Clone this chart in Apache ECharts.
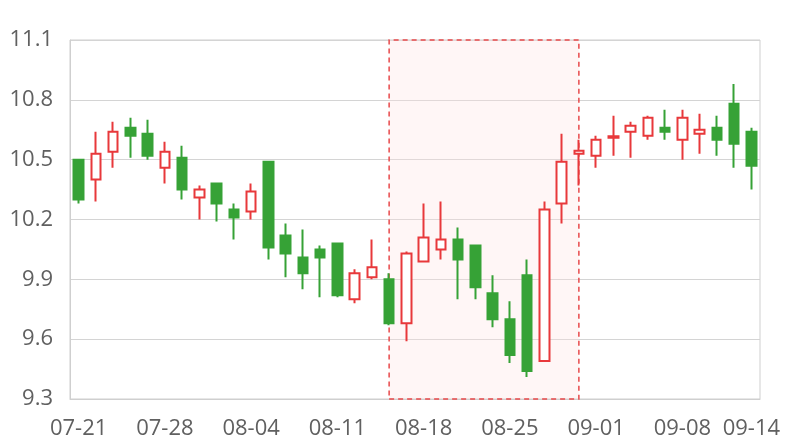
<!DOCTYPE html>
<html>
<head>
<meta charset="utf-8">
<script src="https://cdn.jsdelivr.net/npm/echarts@6/dist/echarts.min.js"></script>
<style>html,body{margin:0;padding:0;background:#fff;}#chart{width:800px;height:440px;}</style>
</head>
<body>
<div id="chart"></div>
<script>
var categories = ['07-21','07-22','07-23','07-24','07-25','07-28','07-29','07-30','07-31','08-01',
  '08-04','08-05','08-06','08-07','08-08','08-11','08-12','08-13','08-14','08-15',
  '08-18','08-19','08-20','08-21','08-22','08-25','08-26','08-27','08-28','08-29',
  '09-01','09-02','09-03','09-04','09-05','09-08','09-09','09-10','09-11','09-14'];
var openValues  = [10.50,10.40,10.54,10.66,10.63,10.46,10.51,10.31,10.38,10.25,
  10.24,10.49,10.12,10.01,10.05,10.08,9.80,9.91,9.90,9.68,
  9.99,10.05,10.10,10.07,9.83,9.70,9.92,9.49,10.28,10.53,
  10.52,10.61,10.64,10.62,10.66,10.60,10.63,10.66,10.78,10.64];
var closeValues = [10.30,10.53,10.64,10.62,10.52,10.54,10.35,10.35,10.28,10.21,
  10.34,10.06,10.03,9.93,10.01,9.82,9.93,9.96,9.68,10.03,
  10.11,10.10,10.00,9.86,9.70,9.52,9.44,10.25,10.49,10.545,
  10.60,10.617,10.67,10.71,10.64,10.71,10.65,10.60,10.58,10.47];
var lowValues   = [10.28,10.29,10.46,10.51,10.50,10.38,10.30,10.20,10.19,10.10,
  10.20,10.00,9.91,9.85,9.81,9.81,9.78,9.90,9.67,9.59,
  9.99,10.00,9.80,9.80,9.66,9.48,9.41,9.49,10.18,10.37,
  10.46,10.52,10.51,10.60,10.60,10.50,10.53,10.52,10.46,10.35];
var highValues  = [10.50,10.64,10.69,10.71,10.70,10.59,10.57,10.37,10.38,10.28,
  10.38,10.49,10.18,10.15,10.07,10.08,9.95,10.10,9.93,10.04,
  10.28,10.29,10.16,10.07,9.92,9.79,10.00,10.29,10.63,10.60,
  10.62,10.72,10.69,10.72,10.75,10.75,10.73,10.72,10.88,10.66];
var yTicks = {min: 9.3, max: 11.1, interval: 0.3};
var highlightRange = ['08-14', '08-29'];

var ohlc = categories.map(function (c, i) {
  return [openValues[i], closeValues[i], lowValues[i], highValues[i]];
});

var chart = echarts.init(document.getElementById('chart'), null, {renderer: 'canvas'});
var font = '"Open Sans", "Noto Sans", sans-serif';
chart.setOption({
  animation: false,
  backgroundColor: '#ffffff',
  grid: {left: 70, right: 40, top: 40, bottom: 40, show: true, borderColor: '#cfcfcf', borderWidth: 1},
  xAxis: {
    type: 'category',
    data: categories,
    boundaryGap: true,
    axisLine: {show: true, lineStyle: {color: '#cfcfcf', width: 1}},
    axisTick: {show: false},
    splitLine: {show: false},
    axisLabel: {
      color: '#606060', fontSize: 22, fontFamily: font, margin: 19,
      interval: function (idx) { return idx % 5 === 0 || idx === categories.length - 1; }
    }
  },
  yAxis: {
    type: 'value',
    min: yTicks.min, max: yTicks.max, interval: yTicks.interval,
    axisLine: {show: true, lineStyle: {color: '#cfcfcf', width: 1}},
    axisTick: {show: false},
    splitLine: {show: true, lineStyle: {color: '#d4d4d4', width: 1}},
    axisLabel: {
      color: '#606060', fontSize: 22, fontFamily: font, margin: 17,
      formatter: function (v) { return v.toFixed(1); }
    }
  },
  series: [{
    type: 'candlestick',
    data: ohlc,
    barWidth: 10,
    itemStyle: {
      color: '#ffffff',
      color0: '#36a236',
      borderColor: '#e8383b',
      borderColor0: '#36a236',
      borderWidth: 2
    },
    markArea: {
      silent: true,
      itemStyle: {
        color: 'rgba(255, 225, 225, 0.3)',
        borderColor: '#e8494b',
        borderWidth: 1.5,
        borderType: [5, 4]
      },
      data: [[{xAxis: highlightRange[0]}, {xAxis: highlightRange[1]}]]
    }
  }]
});
</script>
</body>
</html>
